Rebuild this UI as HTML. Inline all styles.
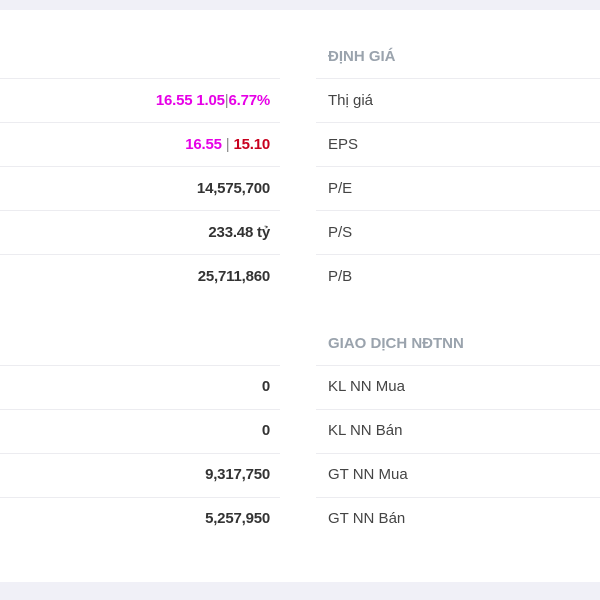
<!DOCTYPE html>
<html><head><meta charset="utf-8"><style>
body{margin:0;width:600px;height:600px;background:#f0f0f7;position:relative;overflow:hidden;font-family:"Liberation Sans","DejaVu Sans",sans-serif}
#panel{position:absolute;left:0;top:10px;width:600px;height:572px;background:#fff}
.sep{position:absolute;height:1px;background:#ececf0}
.l{left:0;width:280px}.r{left:316px;width:284px}
.v{position:absolute;right:330px;font-size:15px;font-weight:bold;color:#333;line-height:20px;white-space:nowrap;letter-spacing:-0.2px}
.k{position:absolute;left:328px;font-size:15px;color:#444;line-height:20px;white-space:nowrap}
.h{position:absolute;left:328px;font-size:15px;font-weight:bold;color:#9aa3ad;line-height:20px}
.m{color:#e600e6}.d{color:#c8001e}.p{color:#888;font-weight:normal}
</style></head><body>
<div id="panel"></div>
<div class="h" style="top:47px">ĐỊNH GIÁ</div>
<div class="sep l" style="top:78px"></div><div class="sep r" style="top:78px"></div>
<div class="v" style="top:91px"><span class="m">16.55 1.05</span><span class="p">|</span><span class="m">6.77%</span></div>
<div class="k" style="top:91px">Thị giá</div>
<div class="sep l" style="top:122px"></div><div class="sep r" style="top:122px"></div>
<div class="v" style="top:135px"><span class="m">16.55</span> <span class="p">|</span> <span class="d">15.10</span></div>
<div class="k" style="top:135px">EPS</div>
<div class="sep l" style="top:166px"></div><div class="sep r" style="top:166px"></div>
<div class="v" style="top:179px">14,575,700</div>
<div class="k" style="top:179px">P/E</div>
<div class="sep l" style="top:210px"></div><div class="sep r" style="top:210px"></div>
<div class="v" style="top:223px">233.48 tỷ</div>
<div class="k" style="top:223px">P/S</div>
<div class="sep l" style="top:254px"></div><div class="sep r" style="top:254px"></div>
<div class="v" style="top:267px">25,711,860</div>
<div class="k" style="top:267px">P/B</div>
<div class="h" style="top:334px">GIAO DỊCH NĐTNN</div>
<div class="sep l" style="top:365px"></div><div class="sep r" style="top:365px"></div>
<div class="v" style="top:377px">0</div>
<div class="k" style="top:377px">KL NN Mua</div>
<div class="sep l" style="top:409px"></div><div class="sep r" style="top:409px"></div>
<div class="v" style="top:421px">0</div>
<div class="k" style="top:421px">KL NN Bán</div>
<div class="sep l" style="top:453px"></div><div class="sep r" style="top:453px"></div>
<div class="v" style="top:465px">9,317,750</div>
<div class="k" style="top:465px">GT NN Mua</div>
<div class="sep l" style="top:497px"></div><div class="sep r" style="top:497px"></div>
<div class="v" style="top:509px">5,257,950</div>
<div class="k" style="top:509px">GT NN Bán</div>
</body></html>
